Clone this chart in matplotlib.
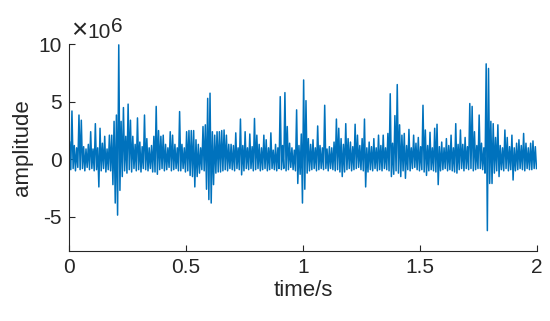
import numpy as np
import matplotlib
matplotlib.use("Agg")
import matplotlib.pyplot as plt

# envelope of the signal, one max/min pair per 0.01 s bin
# values in units of 1e6
bin_width = 0.01
amp_hi = [
    1.5, 4.2, 1.2, 1.0, 3.85, 3.4, 1.1, 0.9, 1.3, 2.4,
    0.9, 3.1, 1.0, 2.7, 1.4, 2.0, 0.9, 2.1, 2.1, 3.3,
    3.85, 9.95, 3.3, 4.5, 2.0, 4.8, 3.4, 2.0, 1.3, 3.6,
    1.5, 1.1, 3.85, 1.8, 1.0, 1.2, 2.0, 4.6, 2.5, 2.0,
    2.1, 1.3, 1.0, 2.4, 2.1, 1.3, 1.0, 4.15, 1.3, 1.0,
    2.4, 2.5, 2.5, 2.5, 1.7, 1.3, 1.0, 2.85, 3.0, 5.3,
    5.75, 2.4, 2.1, 2.4, 2.4, 2.5, 2.55, 2.1, 1.3, 1.3,
    1.2, 2.3, 1.0, 3.5, 1.2, 2.4, 1.0, 2.2, 1.1, 3.55,
    2.1, 1.3, 1.0, 2.1, 1.7, 1.0, 2.3, 0.8, 1.3, 1.0,
    5.45, 1.2, 5.8, 2.85, 1.4, 1.0, 0.8, 4.3, 1.2, 2.2,
    6.9, 5.1, 1.8, 1.3, 1.7, 1.0, 2.9, 1.2, 1.0, 4.7,
    0.9, 1.1, 1.0, 1.5, 3.5, 2.7, 1.8, 1.3, 3.1, 1.8,
    1.5, 1.1, 3.05, 2.1, 1.2, 1.8, 3.5, 1.0, 1.5, 1.1,
    1.8, 1.0, 2.1, 1.2, 2.1, 1.0, 2.25, 5.7, 1.4, 3.8,
    6.5, 3.0, 2.1, 2.25, 1.2, 2.6, 1.0, 2.1, 1.4, 1.9,
    1.1, 4.7, 2.55, 1.2, 2.35, 1.0, 2.7, 3.05, 1.1, 1.5,
    1.0, 1.8, 1.2, 2.1, 1.0, 3.1, 1.3, 2.55, 1.3, 1.9,
    1.1, 4.85, 4.6, 2.4, 1.2, 3.85, 1.4, 1.0, 8.3, 7.9,
    3.3, 3.1, 1.9, 3.0, 1.2, 1.0, 2.55, 1.9, 1.1, 2.1,
    1.0, 1.4, 1.7, 1.2, 2.25, 1.4, 1.0, 1.4, 1.6, 1.1,
]
amp_lo = [
    -0.9, -0.8, -1.0, -0.7, -0.9, -0.8, -1.0, -0.7, -0.9, -0.8,
    -1.0, -0.9, -2.4, -1.0, -0.8, -1.1, -0.9, -1.0, -2.2, -3.8,
    -4.85, -2.7, -1.5, -1.0, -1.2, -0.9, -1.1, -0.8, -1.0, -0.9,
    -1.1, -0.8, -0.9, -1.0, -0.8, -1.1, -1.1, -1.3, -0.9, -0.8,
    -1.0, -0.9, -0.7, -1.0, -0.9, -0.8, -1.0, -1.0, -0.8, -1.1,
    -1.0, -1.4, -1.5, -2.4, -1.5, -1.2, -0.9, -1.0, -2.6, -3.5,
    -3.8, -2.2, -1.2, -1.1, -1.1, -1.0, -0.9, -1.0, -0.8, -0.9,
    -1.0, -0.8, -0.9, -1.35, -1.0, -0.8, -0.9, -0.8, -1.0, -0.9,
    -0.8, -1.0, -0.9, -0.8, -1.0, -0.9, -0.8, -0.9, -1.0, -0.8,
    -0.9, -0.8, -1.0, -0.9, -0.7, -0.9, -1.0, -2.1, -1.3, -3.8,
    -2.6, -1.2, -1.0, -0.9, -0.8, -1.0, -0.9, -0.8, -0.9, -0.8,
    -1.0, -0.8, -0.9, -1.0, -0.9, -1.1, -1.5, -1.1, -0.9, -0.8,
    -1.0, -0.9, -0.8, -0.7, -0.9, -1.0, -2.4, -1.1, -0.9, -1.0,
    -0.8, -1.0, -0.9, -1.0, -0.8, -0.9, -1.0, -1.5, -1.3, -1.0,
    -1.2, -1.5, -1.0, -1.65, -0.9, -1.0, -0.8, -0.7, -0.9, -1.0,
    -0.9, -1.1, -1.4, -1.0, -0.9, -1.0, -1.1, -2.2, -1.0, -0.9,
    -0.8, -1.0, -0.9, -1.0, -1.1, -1.2, -0.9, -0.8, -1.0, -0.8,
    -0.9, -0.8, -1.0, -0.9, -0.8, -0.8, -0.9, -1.2, -6.2, -2.1,
    -2.1, -1.2, -1.0, -1.5, -0.9, -1.0, -0.8, -1.0, -0.9, -1.8,
    -1.0, -0.9, -0.8, -0.9, -1.0, -0.8, -0.9, -0.9, -0.8, -0.8,
]
scale = 1e6
x_ticks = [0, 0.5, 1, 1.5, 2]
y_ticks = [-5, 0, 5, 10]

plt.rcParams['font.family'] = ['Liberation Sans', 'DejaVu Sans']

# interleave max / min of each bin so the trace zigzags like the raw signal
k = np.arange(len(amp_hi))
t = np.column_stack([(k + 0.25) * bin_width, (k + 0.75) * bin_width]).ravel()
amp = np.column_stack([amp_hi, amp_lo]).ravel() * scale

fig = plt.figure(figsize=(5.5, 3.21), dpi=100)
ax = fig.add_axes([0.1255, 0.217, 0.851, 0.645])
ax.plot(t, amp / scale, color='#0072BD', lw=1.1)

ax.set_xlim(0, 2)
ax.set_ylim(-8, 10)
ax.set_xticks(x_ticks)
ax.set_xticklabels(['0', '0.5', '1', '1.5', '2'])
ax.set_yticks(y_ticks)
ax.set_yticklabels(['-5', '0', '5', '10'])
ax.spines['top'].set_visible(False)
ax.spines['right'].set_visible(False)
for s in ['left', 'bottom']:
    ax.spines[s].set_color('#262626')
    ax.spines[s].set_linewidth(0.8)
ax.tick_params(direction='in', length=4, width=0.8, colors='#262626',
               labelsize=15, pad=5)
ax.set_xlabel('time/s', fontsize=16, color='#262626', labelpad=2)
ax.set_ylabel('amplitude', fontsize=16, color='#262626', labelpad=4)

# MATLAB style exponent label above the y axis
fig.text(71 / 550, 1 - 38 / 321, '\u00d7', fontsize=20,
         color='#262626', va='baseline', ha='left')
fig.text(87 / 550, 1 - 38 / 321, '10', fontsize=15,
         color='#262626', va='baseline', ha='left')
fig.text(111 / 550, 1 - 32 / 321, '6', fontsize=15,
         color='#262626', va='baseline', ha='left')

fig.savefig('out.png', dpi=100)
